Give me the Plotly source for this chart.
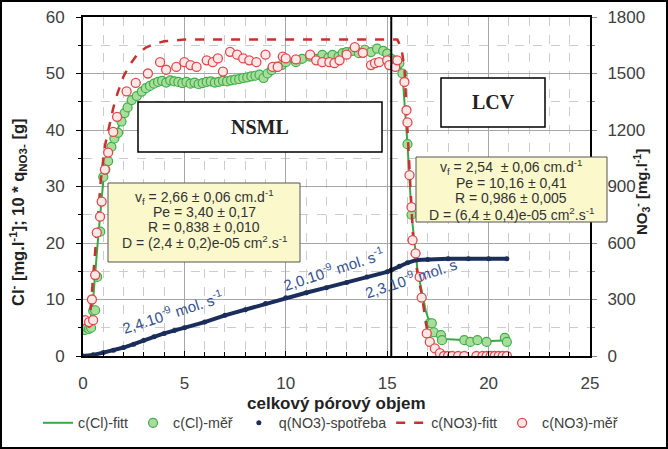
import plotly.graph_objects as go

# ---------------- data ----------------
# c(Cl) fitted curve  [mg/l]
cl_fit_x = [0.35, 0.5, 0.7, 0.93, 1.0, 1.25, 1.5, 1.75, 2.0, 2.3, 2.7, 3.1, 3.5, 4.0, 5.0, 6.0, 7.0, 8.0,
            8.7, 9.0, 9.5, 10.0, 11.0, 12.0, 13.0, 14.0, 15.0, 15.5, 15.75, 16.0, 16.2, 16.5, 16.9, 17.1,
            17.4, 17.8, 18.8, 19.9, 20.9]
cl_fit_y = [6, 10, 19, 27.6, 31, 35, 38.5, 40.5, 43, 45, 46.5, 47.5, 48.2, 48.5, 48.4, 48.4, 48.7, 49.2,
            49.8, 50.2, 51, 52, 52.6, 53.2, 53.7, 54, 53.8, 52.5, 50, 37.5, 25, 15, 8, 5.8,
            4.2, 3, 2.8, 2.6, 2.8]

# c(Cl) measured [mg/l]
cl_meas_x = [0.1, 0.2, 0.3, 0.4, 0.5, 0.6, 0.7, 0.85, 1.0, 1.1, 1.24, 1.4, 1.55, 1.73, 1.9, 2.05, 2.2, 2.4,
             2.65, 2.9, 3.1, 3.3, 3.5, 3.7, 3.9, 4.1, 4.3, 4.5, 4.7, 4.9, 5.1, 5.3, 5.5, 5.7, 5.9, 6.1,
             6.3, 6.5, 6.7, 6.9, 7.1, 7.3, 7.5, 7.7, 7.9, 8.1, 8.3, 8.5, 8.7, 8.9, 9.1, 9.3, 9.55, 9.8,
             10.0, 10.5, 10.8, 11.2, 11.5, 11.8, 12.1, 12.3, 12.6, 12.8, 13.0, 13.3, 13.6, 13.9, 14.2,
             14.5, 14.8, 15.0, 15.2, 15.4, 15.6, 15.75, 16.0, 16.2, 17.1, 17.2, 17.3, 17.65, 17.7, 18.8,
             19.1, 19.45, 19.9, 20.8, 20.9]
cl_meas_y = [4.6, 5.0, 4.8, 5.0, 8.0, 8.1, 14, 22, 31.7, 33, 34.5, 37, 38.5, 39.5, 41.5, 43, 44, 45.3,
             46, 46.8, 47.4, 47.8, 48.2, 48.5, 48.7, 48.4, 48.8, 48.6, 48.5, 48.3, 48.5, 48.2, 48.4, 48.1,
             48.3, 48.5, 48.6, 48.4, 48.5, 48.7, 48.6, 48.8, 48.9, 49.0, 49.2, 49.3, 49.5, 49.6, 49.8,
             49.2, 50.0, 50.6, 51.2, 51.5, 52.0, 52.0, 52.6, 53.0, 52.6, 53.3, 52.8, 53.3, 53.0, 53.6,
             53.8, 54.0, 53.6, 54.2, 53.8, 54.4, 54.0, 53.5, 52.6, 52.3, 51.8, 50.0, 37.5, 25.0, 5.8,
             5.8, 4.2, 3.7, 2.8, 2.8, 2.5, 2.8, 2.5, 3.2, 2.5]

# 10 * q(NO3) consumption [g]
q_x = [0, 0.5, 1, 1.5, 2, 2.5, 3, 3.5, 4, 4.5, 5, 6, 7, 8, 9, 10, 11, 12, 13, 14, 15, 15.2, 15.6, 16,
       16.45, 17, 18, 19, 20, 20.9]
q_y = [0, 0.2, 0.6, 1.0, 1.5, 2.1, 2.8, 3.4, 4.0, 4.5, 5.0, 6.0, 7.2, 8.2, 9.3, 10.3, 11.2, 12.1, 13.0,
       14.0, 14.9, 15.2, 15.9, 16.5, 17.0, 17.1, 17.2, 17.2, 17.2, 17.2]

# c(NO3) fitted curve [mg/l] (right axis)
no3_fit_x = [0.3, 0.5, 0.7, 0.9, 1.1, 1.3, 1.5, 1.7, 2.0, 2.3, 2.7, 3.1, 3.5, 4.0, 4.5, 5.0, 8.0, 12.0,
             15.5, 15.7, 15.85, 16.0, 16.2, 16.3, 16.5, 16.7, 16.9, 17.1, 17.4, 17.8, 18.5, 21.0]
no3_fit_y = [150, 420, 720, 960, 1125, 1230, 1320, 1395, 1485, 1545, 1605, 1638, 1656, 1671, 1677, 1680,
             1680, 1680, 1680, 1635, 1530, 1200, 790, 580, 435, 330, 180, 70, 25, 3, 0, 0]

# c(NO3) measured [mg/l] (right axis)
no3_meas_x = [0.1, 0.3, 0.44, 0.5, 0.6, 0.68, 0.84, 0.92, 1.08, 1.24, 1.49, 1.68, 2.15, 2.6, 3.2, 3.8, 4.1,
              4.6, 5.0, 5.3, 5.6, 6.1, 6.4, 6.65, 6.9, 7.25, 7.6, 7.9, 8.2, 8.55, 9.0, 9.35, 9.6, 9.85,
              10.0, 10.5, 11.2, 11.5, 11.8, 12.15, 12.4, 12.65, 13.0, 13.4, 13.8, 14.2, 14.4, 14.6, 15.0,
              15.1, 15.4, 15.5, 15.85, 15.95, 16.0, 16.1, 16.2, 16.25, 16.4, 16.6, 16.7, 16.95, 17.1,
              17.35, 17.6, 17.8, 18.0, 18.2, 18.5, 18.8, 19.4, 19.7, 19.9, 20.1, 20.3, 20.5, 20.7, 20.9]
no3_meas_y = [190, 180, 300, 190, 430, 655, 740, 820, 990, 1080, 1190, 1270, 1405, 1450, 1500, 1560, 1520,
              1535, 1560, 1545, 1535, 1570, 1560, 1580, 1510, 1615, 1600, 1580, 1570, 1560, 1600, 1535,
              1535, 1590, 1580, 1575, 1600, 1570, 1560, 1560, 1555, 1570, 1600, 1640, 1610, 1545, 1555,
              1560, 1570, 1545, 1535, 1570, 1455, 1305, 1240, 960, 790, 615, 545, 420, 310, 120, 75,
              40, 15, 0, 0, 0, 0, 0, 0, 0, 0, 0, 0, 0, 0, 0]

legend_names = ["c(Cl)-fitt", "c(Cl)-měř", "q(NO3)-spotřeba", "c(NO3)-fitt", "c(NO3)-měř"]
box_nsml = ["v<sub>f</sub> = 2,66 ± 0,06 cm.d<sup>-1</sup>", "Pe = 3,40 ± 0,17", "R = 0,838 ± 0,010",
            "D = (2,4 ± 0,2)e-05 cm<sup>2</sup>.s<sup>-1</sup>"]
box_lcv = ["v<sub>f</sub> = 2,54  ± 0,06 cm.d<sup>-1</sup>", "Pe = 10,16 ± 0,41", "R = 0,986 ± 0,005",
           "D = (6,4 ± 0,4)e-05 cm<sup>2</sup>.s<sup>-1</sup>"]
rate_labels = ["2,4.10<sup>-9</sup> mol. s<sup>-1</sup>", "2,0.10<sup>-9</sup> mol. s<sup>-1</sup>",
               "2,3.10<sup>-9</sup> mol. s"]

# ---------------- figure ----------------
FONT = "Liberation Sans, Arial, sans-serif"
SERIF = "Liberation Serif, Times New Roman, serif"
GREEN = "#3aa845"
RED = "#c8322e"
NAVY = "#1b2d5a"
TXT = "#404040"

fig = go.Figure()
fig.add_trace(go.Scatter(x=cl_fit_x, y=cl_fit_y, mode="lines", name=legend_names[0],
                         line=dict(color=GREEN, width=2)))
fig.add_trace(go.Scatter(x=cl_meas_x, y=cl_meas_y, mode="markers", name=legend_names[1],
                         marker=dict(symbol="circle", size=9, color="#a8dd9b",
                                     line=dict(color="#3fae49", width=1.2))))
fig.add_trace(go.Scatter(x=q_x, y=q_y, mode="lines", showlegend=False,
                         line=dict(color=NAVY, width=4)))
fig.add_trace(go.Scatter(x=q_x, y=q_y, mode="markers", name=legend_names[2],
                         marker=dict(symbol="circle", size=5, color=NAVY)))
fig.add_trace(go.Scatter(x=no3_fit_x, y=no3_fit_y, mode="lines", name=legend_names[3], yaxis="y2",
                         line=dict(color=RED, width=2.5, dash="dash")))
fig.add_trace(go.Scatter(x=no3_meas_x, y=no3_meas_y, mode="markers", name=legend_names[4], yaxis="y2",
                         marker=dict(symbol="circle", size=9, color="#fde8e8",
                                     line=dict(color="#e0484c", width=1.3))))

L, R, T, B, W, H = 83, 78, 17, 93, 668, 449
PW, PH = W - L - R, H - T - B


def px(xp):
    return (xp - L) / PW


def py(yp):
    return (H - B - yp) / PH


shapes = []
annotations = []


def note(x, y, text, **kw):
    d = dict(xref="paper", yref="paper", x=px(x), y=py(y), text=text, showarrow=False,
             xanchor="center", yanchor="middle")
    d.update(kw)
    annotations.append(d)


# phase boundary
shapes.append(dict(type="line", xref="x", yref="paper", x0=15.2, x1=15.2, y0=0, y1=1,
                   line=dict(color="black", width=2)))
# NSML / LCV boxes
for (x0, x1, y0, y1, label) in [(138, 382, 102, 152, "NSML"), (441, 545, 78, 127, "LCV")]:
    shapes.append(dict(type="rect", xref="paper", yref="paper", x0=px(x0), x1=px(x1), y0=py(y1),
                       y1=py(y0), line=dict(color="black", width=1.5), fillcolor="white", layer="above"))
    note((x0 + x1) / 2, (y0 + y1) / 2, "<b>%s</b>" % label, font=dict(family=SERIF, size=20, color="#222"))
# yellow parameter boxes
for (x0, x1, y0, y1, lines, cx, ys) in [(108, 300, 183, 262, box_nsml, 204, [197, 212, 227, 242]),
                                         (416, 607, 157, 222, box_lcv, 511, [167, 183, 198, 214])]:
    shapes.append(dict(type="rect", xref="paper", yref="paper", x0=px(x0), x1=px(x1), y0=py(y1),
                       y1=py(y0), line=dict(color="#555", width=1), fillcolor="#fbf8cc", layer="above"))
    for t, yy in zip(lines, ys):
        note(cx, yy, t, font=dict(family=FONT, size=14, color="#333"))
# consumption rate labels
for t, (xx, yy) in zip(rate_labels, [(172, 311), (333, 268), (410, 277)]):
    note(xx, yy, t, textangle=-18, font=dict(family=FONT, size=15, color="#34508f"))
# axis titles
note(336, 403, "<b>celkový pórový objem</b>", font=dict(family=FONT, size=17, color="#222"))
note(18, 212, "<b>Cl<sup>-</sup> [mg.l<sup>-1</sup>]; 10 * q<sub>NO3-</sub> [g]</b>", textangle=-90,
     font=dict(family=FONT, size=16.5, color="#222"))
note(641, 192, "<b>NO<sub>3</sub><sup>-</sup> [mg.l<sup>-1</sup>]</b>", textangle=-90,
     font=dict(family=FONT, size=15, color="#222"))
# outer frame
shapes.append(dict(type="rect", xref="paper", yref="paper", x0=px(1), x1=px(667), y0=py(448), y1=py(1),
                   line=dict(color="black", width=2)))

fig.update_layout(
    width=W, height=H, margin=dict(l=L, r=R, t=T, b=B, autoexpand=False),
    paper_bgcolor="white", plot_bgcolor="white",
    font=dict(family=FONT, size=17, color=TXT),
    shapes=shapes, annotations=annotations,
    legend=dict(orientation="h", x=px(38), xanchor="left", y=py(423), yanchor="middle",
                font=dict(size=14.3, color=TXT), bgcolor="rgba(0,0,0,0)", itemwidth=30),
    xaxis=dict(range=[0, 25], dtick=5, showline=True, linecolor="black", linewidth=2, mirror=True,
               showgrid=True, gridcolor="#a6a6a6", gridwidth=1, zeroline=False,
               ticks="inside", ticklen=5, tickcolor="black", ticklabelstandoff=11,
               minor=dict(dtick=1, showgrid=True, gridcolor="#cccccc", griddash="dash", ticks="inside",
                          ticklen=4, tickcolor="black")),
    yaxis=dict(range=[0, 60], dtick=10, showline=True, linecolor="black", linewidth=2,
               showgrid=True, gridcolor="#a6a6a6", gridwidth=1, zeroline=False,
               ticks="outside", ticklen=5, tickcolor="black", ticklabelstandoff=8,
               minor=dict(dtick=5, showgrid=True, gridcolor="#cccccc", griddash="dash", ticks="outside",
                          ticklen=3, tickcolor="black")),
    yaxis2=dict(range=[0, 1800], dtick=300, overlaying="y", side="right", showline=True,
                linecolor="black", linewidth=2, showgrid=False, zeroline=False,
                ticks="outside", ticklen=5, tickcolor="#888", ticklabelstandoff=7,
                minor=dict(dtick=150, ticks="outside", ticklen=3, tickcolor="#888")),
)

fig.write_html("out.html", config={"displayModeBar": False},
               post_script="document.body.style.margin='0px';document.body.style.padding='0px';")
